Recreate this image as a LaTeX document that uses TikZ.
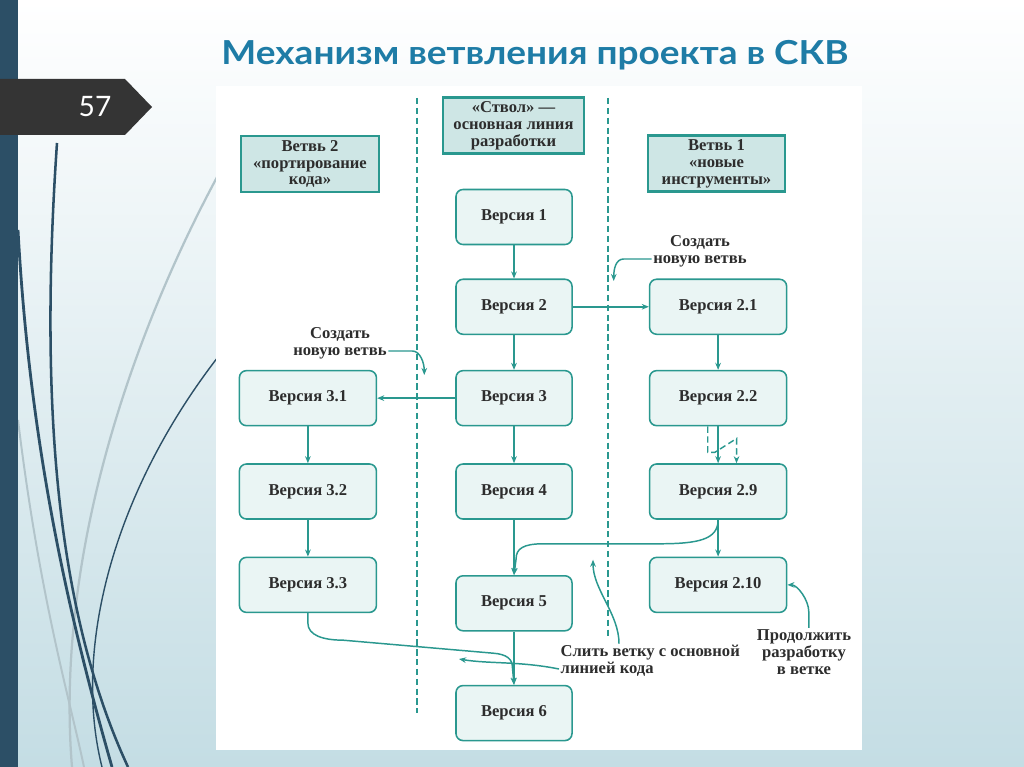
\documentclass[tikz,border=0pt]{standalone}
\usepackage{fontspec}
\setmainfont{Liberation Serif}
\newfontfamily\titlefont[FakeStretch=1.12]{Lato}
\newfontfamily\numfont{Lato}
\usetikzlibrary{arrows,arrows.meta,positioning}

\definecolor{lineteal}{RGB}{42,152,143}
\definecolor{verfill}{RGB}{234,245,244}
\definecolor{headfill}{RGB}{206,230,229}
\definecolor{titleblue}{RGB}{30,124,166}
\definecolor{stripeblue}{RGB}{44,79,102}
\definecolor{tagdark}{RGB}{52,52,52}
\definecolor{bgblue}{RGB}{196,221,228}
\definecolor{decogray}{RGB}{178,196,202}
\definecolor{txtdark}{RGB}{45,45,45}

\begin{document}
\begin{tikzpicture}[x=0.025cm, y=-0.025cm,
  ver/.style={draw=lineteal, line width=1.1pt, rounded corners=5pt, fill=verfill,
    text=txtdark, minimum width=2.9cm, minimum height=1.375cm,
    font=\bfseries\fontsize{11.8}{12}\selectfont},
  verwide/.style={ver, minimum width=3.425cm},
  head/.style={draw=lineteal, line width=1.5pt, fill=headfill, text=txtdark,
    align=center, minimum height=1.4cm, inner sep=1pt,
    font=\bfseries\fontsize{11.8}{12}\selectfont},
  note/.style={align=center, text=txtdark, inner sep=1pt,
    font=\bfseries\fontsize{11.8}{12}\selectfont},
  link/.style={-{Stealth[length=5pt, width=4pt]}, draw=lineteal, line width=1.05pt},
  sep/.style={draw=lineteal, line width=1pt, dash pattern=on 4.5pt off 2.5pt}
]
  % slide background
  \useasboundingbox (0,0) rectangle (1024,767);
  \shade[top color=white, bottom color=bgblue] (0,0) rectangle (1024,767);
  \fill[stripeblue] (0,0) rectangle (18,767);
  \begin{scope}
    \clip (18,0) rectangle (216,767);
    \draw[decogray, line width=1.6pt] (232,150) .. controls (130,330) and (55,560) .. (72,767);
    \draw[decogray, line width=1.4pt] (18,420) .. controls (40,600) and (70,700) .. (84,767);
    \draw[stripeblue, line width=2pt] (18,230) .. controls (30,450) and (70,620) .. (112,767);
    \draw[stripeblue, line width=1.8pt] (57,143) .. controls (38,420) and (60,620) .. (128,767);
    \draw[stripeblue, line width=1pt] (240,330) .. controls (120,470) and (70,640) .. (102,767);
  \end{scope}
  \fill[tagdark] (0,79) -- (125,79) -- (152,107) -- (125,135) -- (0,135) -- cycle;
  \node[anchor=base, text=white, font=\numfont\fontsize{20}{20}\selectfont] (slidenum)
    at (95,117) {57};
  \node[anchor=base, text=titleblue, font=\titlefont\bfseries\fontsize{23.5}{24}\selectfont]
    (title) at (535,65) {Механизм ветвления проекта в СКВ};
  \fill[white] (216,86) rectangle (862,750);

  % lanes
  \coordinate (lane1top) at (417,98);
  \coordinate (lane1bot) at (417,713);
  \coordinate (lane2top) at (608,98);
  \coordinate (lane2bot) at (608,637);
  \draw[sep] (lane1top) -- (lane1bot);
  \draw[sep] (lane2top) -- (lane2bot);

  \node[head, minimum width=3.45cm] (headport) at (310,164)
    {Ветвь 2\\«портирование\\кода»};
  \node[head, minimum width=3.525cm] (headtrunk) at (513.5,125.5)
    {«Ствол» —\\основная линия\\разработки};
  \node[head, minimum width=3.425cm] (headtools) at (716.5,163.5)
    {Ветвь 1\\«новые\\инструменты»};

  % trunk
  \node[ver] (v1) at (514,217) {Версия 1};
  \node[ver, below=0.83cm of v1] (v2) {Версия 2};
  \node[ver, below=0.87cm of v2] (v3) {Версия 3};
  \node[ver, below=0.92cm of v3] (v4) {Версия 4};
  \node[ver, below=1.38cm of v4] (v5) {Версия 5};
  \node[ver, below=1.33cm of v5] (v6) {Версия 6};
  % branch 1
  \node[verwide, right=1.9cm of v2] (v21) {Версия 2.1};
  \node[verwide, below=0.87cm of v21] (v22) {Версия 2.2};
  \node[verwide, below=0.92cm of v22] (v29) {Версия 2.9};
  \node[verwide, below=0.92cm of v29] (v210) {Версия 2.10};
  % branch 2
  \node[verwide, left=1.95cm of v3] (v31) {Версия 3.1};
  \node[verwide, below=0.92cm of v31] (v32) {Версия 3.2};
  \node[verwide, below=0.92cm of v32] (v33) {Версия 3.3};

  \draw[link] (v1) -- (v2);
  \draw[link] (v2) -- (v3);
  \draw[link] (v3) -- (v4);
  \draw[link] (v4) -- (v5);
  \draw[link] (v5) -- (v6);
  \draw[link] (v2) -- (v21);
  \draw[link] (v3) -- (v31);
  \draw[link] (v21) -- (v22);
  \draw[link] (v22) -- (v29);
  \draw[link] (v29) -- (v210);
  \draw[link] (v31) -- (v32);
  \draw[link] (v32) -- (v33);
  \draw[sep, -{Stealth[length=5pt, width=4pt]}] ([xshift=-0.26cm]v22.south) -- ++(0,26)
    -- ++(7,0) -- ++(22,-14) -- ([xshift=0.46cm]v29.north);
  % merges into the trunk
  \draw[link] (v29.south) .. controls +(0,20) and +(40,0) .. ++(-60,24) -- ++(-115,0)
    .. controls +(-20,0) and +(0,-10) .. ++(-27,15) -- (v5.north);
  \draw[link] (v33.south) -- ++(0,10) .. controls +(0,12) and +(-20,0) .. ++(35,17)
    -- ++(150,13) .. controls +(14,1) and +(0,-8) .. ++(19.5,14) -- (v6.north);

  % notes
  \node[note] (newtools) at (700,251) {Создать\\новую ветвь};
  \node[note] (newport) at (340,343) {Создать\\новую ветвь};
  \node[note, align=left, anchor=west] (merge) at (559,661)
    {Слить ветку с основной\\линией кода};
  \node[note] (goon) at (804,652) {Продолжить\\разработку\\в ветке};

  \draw[link] ([yshift=-0.2cm]newtools.west) -- ++(-28,0)
    .. controls +(-8,0) and +(0,-12) .. ++(-10,22);
  \draw[link] ([yshift=-0.2cm]newport.east) -- ++(24,0)
    .. controls +(8,0) and +(0,-12) .. ++(12,24);
  \draw[link] ([xshift=1.5cm]merge.north west) .. controls +(0,-30) and +(0,30) .. ++(-26,-84);
  \draw[link] ([yshift=-0.2cm]merge.west) .. controls +(-40,-8) and +(30,5) .. ++(-100,-10);
  \draw[link] ([xshift=0.12cm]goon.north) -- ++(0,-16)
    .. controls +(0,-12) and +(10,0) .. (v210.east);
\end{tikzpicture}
\end{document}
